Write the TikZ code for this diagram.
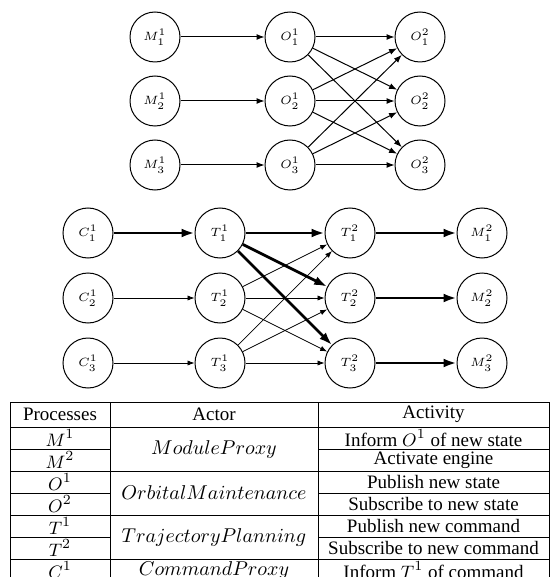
\documentclass[tikz,border=0pt]{standalone}
\usepackage{fontspec}
\setmainfont{Liberation Serif}
\usetikzlibrary{arrows.meta}

\tikzset{
  proc/.style={draw, circle, minimum size=25pt, inner sep=0pt, line width=0.5pt},
  flow/.style={-{Latex[length=4pt,width=3pt]}, line width=0.5pt},
  thin flow/.style={-{Latex[length=3.5pt,width=2.6pt]}, line width=0.35pt},
  heavy flow/.style={-{Latex[length=6.5pt,width=4.5pt]}, line width=1.4pt},
  cell/.style={font=\fontsize{9.5}{11}\selectfont, inner sep=0pt},
}

\begin{document}
\begin{tikzpicture}[x=0.5pt, y=-0.5pt]
  \useasboundingbox (0,0) rectangle (552,577);

  % module proxy -> orbital maintenance
  \foreach \i/\y in {1/37,2/101,3/165} {
    \node[proc, font=\fontsize{6.5}{7}\selectfont] (M1\i) at (155,\y) {$M^1_\i$};
    \node[proc, font=\fontsize{6.5}{7}\selectfont] (O1\i) at (290,\y) {$O^1_\i$};
    \node[proc, font=\fontsize{6.5}{7}\selectfont] (O2\i) at (420,\y) {$O^2_\i$};
    \draw[flow] (M1\i) -- (O1\i);
  }
  \foreach \i in {1,2,3}
    \foreach \j in {1,2,3}
      \draw[flow] (O1\i) -- (O2\j);

  % command proxy -> trajectory planning -> engines
  \foreach \i/\y in {1/233,2/298,3/363} {
    \node[proc, font=\fontsize{6}{7}\selectfont] (C1\i) at (88,\y) {$C^1_\i$};
    \node[proc, font=\fontsize{6}{7}\selectfont] (T1\i) at (220,\y) {$T^1_\i$};
    \node[proc, font=\fontsize{6}{7}\selectfont] (T2\i) at (350,\y) {$T^2_\i$};
    \node[proc, font=\fontsize{6}{7}\selectfont] (M2\i) at (482,\y) {$M^2_\i$};
    \draw[heavy flow] (T2\i) -- (M2\i);
  }
  \draw[heavy flow] (C11) -- (T11);
  \draw[thin flow] (C12) -- (T12);
  \draw[thin flow] (C13) -- (T13);
  \foreach \j in {1,2,3}
    \draw[heavy flow] (T11) -- (T2\j);
  \foreach \i in {2,3}
    \foreach \j in {1,2,3}
      \draw[thin flow] (T1\i) -- (T2\j);

  % table
  \begin{scope}[line width=0.5pt]
    \foreach \y in {402,427,471,515,559,581}
      \draw (10,\y) -- (549,\y);
    \foreach \y in {449,493,537} {
      \draw (10,\y) -- (110,\y);
      \draw (318,\y) -- (549,\y);
    }
    \foreach \x in {10,110,318,549}
      \draw (\x,402) -- (\x,581);
  \end{scope}

  \node[cell] (hproc) at (60,414.5) {Processes};
  \node[cell] (hactor) at (214,414.5) {Actor};
  \node[cell] (hact) at (433.5,414.5) {Activity};

  \foreach \n/\p/\t/\y in {1/$M^1$/Inform $O^1$ of new state/438,
                           2/$M^2$/Activate engine/460,
                           3/$O^1$/Publish new state/482,
                           4/$O^2$/Subscribe to new state/504,
                           5/$T^1$/Publish new command/526,
                           6/$T^2$/Subscribe to new command/548,
                           7/$C^1$/Inform $T^1$ of command/570} {
    \node[cell] (p\n) at (60,\y) {\p};
    \node[cell] (a\n) at (433.5,\y) {\t};
  }
  \foreach \n/\a/\y in {1/ModuleProxy/449, 2/OrbitalMaintenance/493,
                        3/TrajectoryPlanning/537, 4/CommandProxy/570}
    \node[cell, font=\fontsize{10}{12}\selectfont] (actor\n) at (214,\y) {$\a$};
\end{tikzpicture}
\end{document}
